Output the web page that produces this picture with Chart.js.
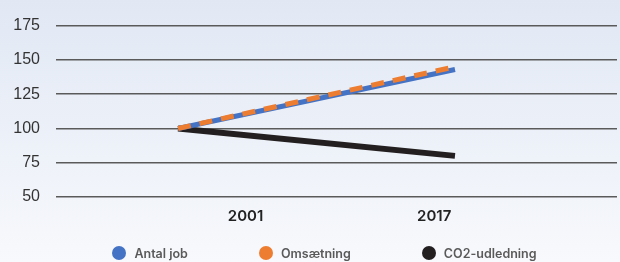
<!DOCTYPE html>
<html>
<head>
<meta charset="utf-8">
<script src="https://cdn.jsdelivr.net/npm/chart.js@4"></script>
<style>
  html, body { margin: 0; padding: 0; }
  body {
    width: 620px; height: 262px; position: relative; overflow: hidden;
    background: linear-gradient(to bottom, #e1e8f4 0%, #eef2f9 60%, #f8f9fc 100%);
  }
  #wrap { position: absolute; left: 0; top: 0; width: 620px; height: 262px; }
  #legend {
    position: absolute; left: 0; top: 244px; width: 620px; height: 18px;
    display: flex; justify-content: center; align-items: center; gap: 71px;
    padding-left: 29px; box-sizing: border-box;
    font-family: Inter, sans-serif; font-weight: 600; font-size: 12.5px; color: #5a5a5a;
  }
  .item { display: flex; align-items: center; gap: 8px; white-space: nowrap; }
  .dot { width: 14px; height: 14px; border-radius: 50%; display: inline-block; }
</style>
</head>
<body>
<div id="wrap"><canvas id="chart" width="620" height="262"></canvas></div>
<div id="legend"></div>
<script>
// ---- data ----
const years = ['2001', '2017'];
const yearValues = [2001, 2017];
const antalJob = [100, 143];
const omsaetning = [100, 145];
const co2 = [100, 80];
const yTicks = [50, 75, 100, 125, 150, 175];

const seriesNames = ['Antal job', 'Omsætning', 'CO2-udledning'];
const seriesColors = ['#4472c4', '#ed7d31', '#231f20'];

// where the year labels sit on the x scale (the labels are not under the points)
const labelPos = [2004.9, 2015.8];

function pts(values) {
    return values.map((v, i) => ({ x: yearValues[i], y: v }));
}

const chart = new Chart(document.getElementById('chart'), {
    type: 'line',
    data: {
        datasets: [
            {
                label: seriesNames[0],
                data: pts(antalJob),
                borderColor: seriesColors[0],
                backgroundColor: seriesColors[0],
                borderWidth: 5,
                pointRadius: 0,
                order: 2
            },
            {
                label: seriesNames[1],
                data: pts(omsaetning),
                borderColor: seriesColors[1],
                backgroundColor: seriesColors[1],
                borderWidth: 5,
                borderDash: [13, 9],
                pointRadius: 0,
                order: 1
            },
            {
                label: seriesNames[2],
                data: pts(co2),
                borderColor: seriesColors[2],
                backgroundColor: seriesColors[2],
                borderWidth: 6,
                pointRadius: 0,
                order: 3
            }
        ]
    },
    options: {
        responsive: false,
        animation: false,
        layout: { padding: { top: 23, right: 3, bottom: 35, left: 0 } },
        plugins: {
            legend: { display: false },
            tooltip: { enabled: false }
        },
        scales: {
            x: {
                type: 'linear',
                min: 1993.95,
                max: 2026.36,
                grid: { display: false },
                border: { display: false },
                afterBuildTicks: (scale) => {
                    scale.ticks = labelPos.map(v => ({ value: v }));
                },
                afterFit: (scale) => { scale.height = 30; },
                ticks: {
                    padding: 2,
                    color: '#222',
                    font: { family: 'Inter', size: 15, weight: '600' },
                    callback: (value, index) => years[index]
                }
            },
            y: {
                min: yTicks[0],
                max: yTicks[yTicks.length - 1],
                afterBuildTicks: (scale) => {
                    scale.ticks = yTicks.map(v => ({ value: v }));
                },
                afterFit: (scale) => { scale.width = 56; },
                grid: { color: '#5a5a5a', lineWidth: 1.5, drawTicks: false },
                border: { display: false },
                ticks: {
                    padding: 16,
                    color: '#333',
                    font: { family: 'Liberation Sans', size: 16 }
                }
            }
        }
    }
});

// ---- legend ----
const legendEl = document.getElementById('legend');
chart.data.datasets.forEach(ds => {
    const item = document.createElement('span');
    item.className = 'item';
    const dot = document.createElement('span');
    dot.className = 'dot';
    dot.style.background = ds.borderColor;
    const txt = document.createElement('span');
    txt.textContent = ds.label;
    item.appendChild(dot);
    item.appendChild(txt);
    legendEl.appendChild(item);
});
</script>
</body>
</html>
